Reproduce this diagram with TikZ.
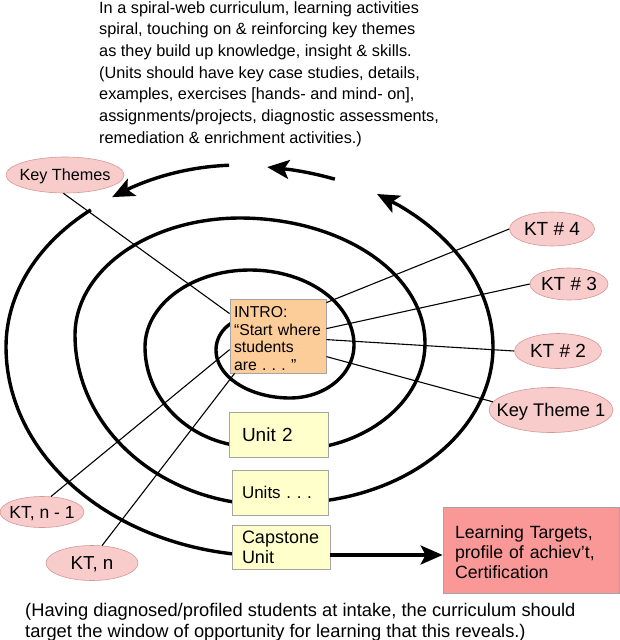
\documentclass[tikz,border=0pt]{standalone}
\usepackage{fontspec}
\setmainfont{Liberation Sans}
\usetikzlibrary{arrows.meta,shapes.geometric,calc}
\definecolor{ktpink}{RGB}{249,204,204}
\definecolor{ktborder}{RGB}{214,150,150}
\definecolor{introfill}{RGB}{252,204,153}
\definecolor{unitfill}{RGB}{255,255,204}
\definecolor{boxborder}{RGB}{165,165,165}
\definecolor{ltfill}{RGB}{250,152,152}
\newcommand\ctrtext[1]{\makebox[0pt]{\raisebox{-0.36em}[0pt][0pt]{#1}}}
\newcommand\fsz[2]{\fontsize{#1}{#2}\selectfont}
\frenchspacing
\begin{document}
\begin{tikzpicture}[x=1pt,y=-1pt,
  spiral/.style={line width=3.4pt, line join=round},
  bigarrow/.style={-{Stealth[length=22pt,width=19pt,inset=5pt]}},
  conn/.style={line width=1.1pt},
  kt/.style={ellipse, draw=ktborder, fill=ktpink, inner sep=0pt, line width=0.6pt},
  sqbox/.style={rectangle, draw=boxborder, line width=0.8pt, align=left, inner ysep=0pt},
]
\useasboundingbox (0,0) rectangle (620,640);

% spiral pieces
\draw[spiral]
  plot[domain=90:180,samples=25,variable=\t] ({250+34*cos(\t)},{350-32*sin(\t)})
  -- plot[domain=180:270,samples=30,variable=\t] ({290+74*cos(\t)},{350-48*sin(\t)})
  -- plot[domain=270:360,samples=30,variable=\t] ({290+64*cos(\t)},{345-53*sin(\t)})
  -- plot[domain=0:90,samples=40,variable=\t] ({250+104*cos(\t)},{345-75*sin(\t)})
  -- plot[domain=90:180,samples=40,variable=\t] ({250+105*cos(\t)},{347-77*sin(\t)})
  -- plot[domain=180:270,samples=40,variable=\t] ({255+110*cos(\t)},{347-100*sin(\t)});
\draw[spiral]
  plot[domain=270:360,samples=40,variable=\t] ({290+135*cos(\t)},{343-107*sin(\t)})
  -- plot[domain=0:90,samples=50,variable=\t] ({240+185*cos(\t)},{343-125*sin(\t)})
  -- plot[domain=90:180,samples=50,variable=\t] ({240+165*cos(\t)},{335-117*sin(\t)})
  -- plot[domain=180:270,samples=50,variable=\t] ({270+195*cos(\t)},{335-170*sin(\t)});
\draw[spiral,bigarrow]
  plot[domain=270:360,samples=50,variable=\t] ({290+203*cos(\t)},{347-156*sin(\t)})
  -- plot[domain=0:51,samples=40,variable=\t] ({240+253*cos(\t)},{347-182*sin(\t)})
  -- ({240+253*cos(57.2)},{347-182*sin(57.2)});
\draw[spiral,bigarrow]
  plot[domain=68.6:79,samples=12,variable=\t] ({240+260*cos(\t)},{357-191*sin(\t)})
  -- ({240+260*cos(84)},{357-191*sin(84)});
\draw[spiral,bigarrow]
  plot[domain=92.7:118,samples=25,variable=\t] ({240+231*cos(\t)},{357-192*sin(\t)})
  -- ({240+231*cos(123.6)},{357-192*sin(123.6)});
\draw[spiral]
  plot[domain=129.6:180,samples=40,variable=\t] ({240+234*cos(\t)},{347-178*sin(\t)})
  -- plot[domain=180:270,samples=60,variable=\t] ({270+264*cos(\t)},{347-209*sin(\t)});

% texts
\node[anchor=north west, inner sep=0pt, align=left, font=\fsz{16.3}{21.7}] (toptext) at (99,1)
  {In a spiral-web curriculum, learning activities\\
   spiral, touching on \& reinforcing key themes\\
   as they build up knowledge, insight \& skills.\\
   (Units should have key case studies, details,\\
   examples, exercises [hands- and mind- on],\\
   assignments/projects, diagnostic assessments,\\
   remediation \& enrichment activities.)};
\node[anchor=north west, inner sep=0pt, align=left, font=\fsz{18.3}{21}] (bottomtext) at (25,603)
  {(Having diagnosed/profiled students at intake, the curriculum should\\
   target the window of opportunity for learning that this reveals.)};

% boxes
\node[sqbox, fill=introfill, minimum width=96pt, minimum height=74pt, inner xsep=4pt, text width=88pt,
      font=\fsz{15.8}{17.7}] (intro) at (278,336)
  {\rule{0pt}{16pt}INTRO:\\“Start where\\students\\are . . . ”};
\node[sqbox, fill=unitfill, minimum width=99pt, minimum height=45pt, inner xsep=13pt, text width=73pt,
      font=\fsz{19}{22}] (unit2) at (278.5,434.5) {Unit 2};
\node[sqbox, fill=unitfill, minimum width=96pt, minimum height=45pt, inner xsep=10pt, text width=76pt,
      font=\fsz{17}{20}] (units) at (280,492.5) {Units . . .};
\node[sqbox, fill=unitfill, minimum width=98pt, minimum height=44pt, inner xsep=10pt, text width=78pt,
      font=\fsz{18}{20}] (cap) at (281,547) {Capstone\\Unit};
\node[sqbox, fill=ltfill, minimum width=176pt, minimum height=86pt, inner xsep=12pt, text width=152pt,
      font=\fsz{17.7}{20}] (lt) at (531,550)
  {\rule{0pt}{18pt}Learning Targets,\\profile of achiev’t,\\Certification};

% ellipses
\node[kt, minimum width=118pt, minimum height=36pt, font=\fsz{16.2}{19}] (keythemes) at (65,175) {\ctrtext{Key Themes}};
\node[kt, minimum width=85pt, minimum height=34pt, font=\fsz{19}{22}] (kt4) at (552,229) {\ctrtext{KT \# 4}};
\node[kt, minimum width=78pt, minimum height=32pt, font=\fsz{19}{22}] (kt3) at (569,284) {\ctrtext{KT \# 3}};
\node[kt, minimum width=87pt, minimum height=35pt, font=\fsz{19}{22}] (kt2) at (558,351) {\ctrtext{KT \# 2}};
\node[kt, minimum width=124pt, minimum height=45pt, font=\fsz{18.3}{21}] (kt1) at (551,410) {\ctrtext{Key Theme 1}};
\node[kt, minimum width=84pt, minimum height=31pt, font=\fsz{17.5}{20}] (ktn1) at (42,512) {\ctrtext{KT, n - 1}};
\node[kt, minimum width=92pt, minimum height=35pt, font=\fsz{18.8}{21}] (ktn) at (92,563) {\ctrtext{KT, n}};

% connectors
\draw[conn] (keythemes.265) -- ($(intro.north west)+(0,15)$);
\draw[conn] (kt4.west) -- ($(intro.north east)+(0,4)$);
\draw[conn] (kt3.west) -- ($(intro.north east)+(0,30)$);
\draw[conn] (kt2.west) -- ($(intro.north east)+(0,41)$);
\draw[conn] (kt1.172) -- ($(intro.north east)+(0,58)$);
\draw[conn] (ktn1.60) -- ($(intro.north west)+(0,51)$);
\draw[conn] (ktn.60) -- ($(intro.south west)+(5,0)$);

\coordinate (capout) at ($(cap.east)+(0,8)$);
\draw[spiral,bigarrow] (capout) -- (capout -| lt.west);
\end{tikzpicture}
\end{document}
